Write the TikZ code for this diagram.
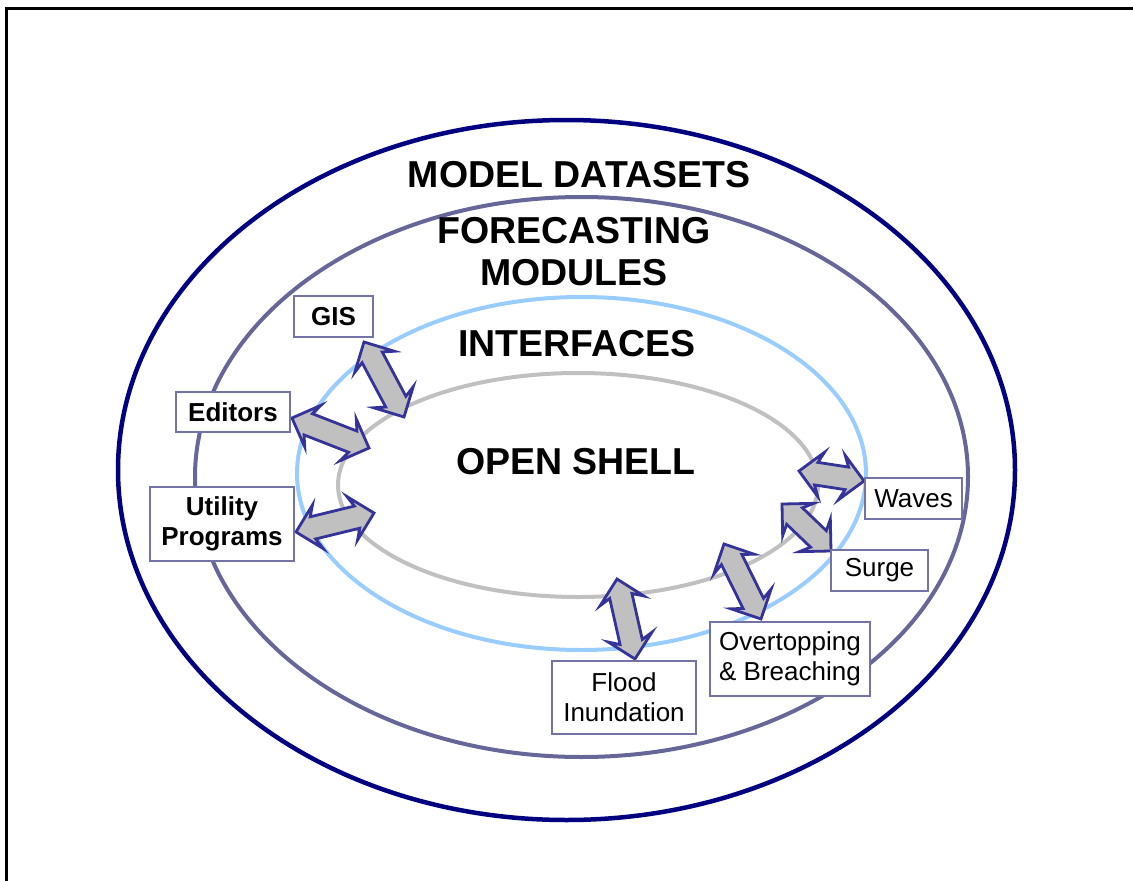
\documentclass[tikz,border=0pt]{standalone}
\usepackage{fontspec}
\setmainfont{Liberation Sans}
\usetikzlibrary{shapes.arrows,calc}
\definecolor{ringnavy}{HTML}{000080}
\definecolor{ringslate}{HTML}{666699}
\definecolor{ringsky}{HTML}{99CCFF}
\definecolor{ringgray}{HTML}{C0C0C0}
\definecolor{boxline}{HTML}{7373A8}
\definecolor{arrowline}{HTML}{333399}
\tikzset{
  ring/.style={line width=4pt},
  title/.style={font=\fontsize{37.5}{42}\selectfont\bfseries, align=center, inner sep=0pt},
  module/.style={draw=boxline, line width=2pt, fill=white, align=center,
    font=\fontsize{26}{30}\selectfont, inner sep=0pt},
  link/.style={double arrow, draw=arrowline, fill=ringgray, line width=2.8pt,
    inner xsep=0pt, inner ysep=10pt, double arrow head extend=11pt,
    double arrow head indent=5pt, double arrow tip angle=90},
}
% fat two-way arrow between two points: name, from, to
\newcommand{\modlink}[3]{%
  \path let \p1=($(#3)-(#2)$) in
    node[link, minimum height={veclen(\x1,\y1)}, rotate={atan2(\y1,\x1)}]
      (#1) at ($(#2)!0.5!(#3)$) {};}
\begin{document}
\begin{tikzpicture}[x=1pt, y=-1pt]
      \useasboundingbox (0,0) rectangle (1133,881);
      \draw[line width=3pt] (6.5,881) |- (1133,8);
      \draw[ring, ringnavy, line width=4.5pt] (566.5,470) ellipse [x radius=448.5pt, y radius=350pt];
      \draw[ring, ringslate] (581.5,477) ellipse [x radius=386.5pt, y radius=280pt];
      \draw[ring, ringsky] (581.5,473.5) ellipse [x radius=284.5pt, y radius=176.5pt];
      \draw[ring, ringgray] (578,485) ellipse [x radius=240pt, y radius=112pt];
      \node[title] (datasets) at (579,175) {MODEL DATASETS};
      \node[title] (forecasting) at (574,252) {FORECASTING\\MODULES};
      \node[title] (interfaces) at (577,344) {INTERFACES};
      \node[title] (shell) at (576,462) {OPEN SHELL};
      \coordinate (gis-a) at (364,342);
      \coordinate (gis-b) at (404,417);
      \coordinate (editors-a) at (292,418);
      \coordinate (editors-b) at (369,448);
      \coordinate (utility-a) at (296,532);
      \coordinate (utility-b) at (374,513);
      \coordinate (waves-a) at (799,471);
      \coordinate (waves-b) at (864,481);
      \coordinate (surge-a) at (782,504);
      \coordinate (surge-b) at (831,551);
      \coordinate (overtop-a) at (724,544);
      \coordinate (overtop-b) at (761,619);
      \coordinate (flood-a) at (617,579);
      \coordinate (flood-b) at (635,659);
      \begin{scope}
        \modlink{gis-link}{gis-a}{gis-b}
        \modlink{editors-link}{editors-a}{editors-b}
        \modlink{utility-link}{utility-a}{utility-b}
        \modlink{waves-link}{waves-a}{waves-b}
        \modlink{surge-link}{surge-a}{surge-b}
        \modlink{overtop-link}{overtop-a}{overtop-b}
        \modlink{flood-link}{flood-a}{flood-b}
      \end{scope}
      \node[module, minimum width=79pt, minimum height=41pt] (gis) at (333.5,316.5) {\bfseries GIS};
      \node[module, minimum width=114pt, minimum height=40pt] (editors) at (233,412) {\bfseries Editors};
      \node[module, minimum width=144pt, minimum height=74pt] (utility) at (222,524) {\bfseries Utility\\\bfseries Programs};
      \node[module, minimum width=97pt, minimum height=41pt] (waves) at (913.5,498.5) {Waves};
      \node[module, minimum width=97pt, minimum height=41pt] (surge) at (879.5,570.5) {Surge};
      \node[module, minimum width=160pt, minimum height=74pt] (overtop) at (790,659) {Overtopping\\\& Breaching};
      \node[module, minimum width=144pt, minimum height=73pt] (flood) at (624,697.5) {Flood\\Inundation};
\end{tikzpicture}
\end{document}
